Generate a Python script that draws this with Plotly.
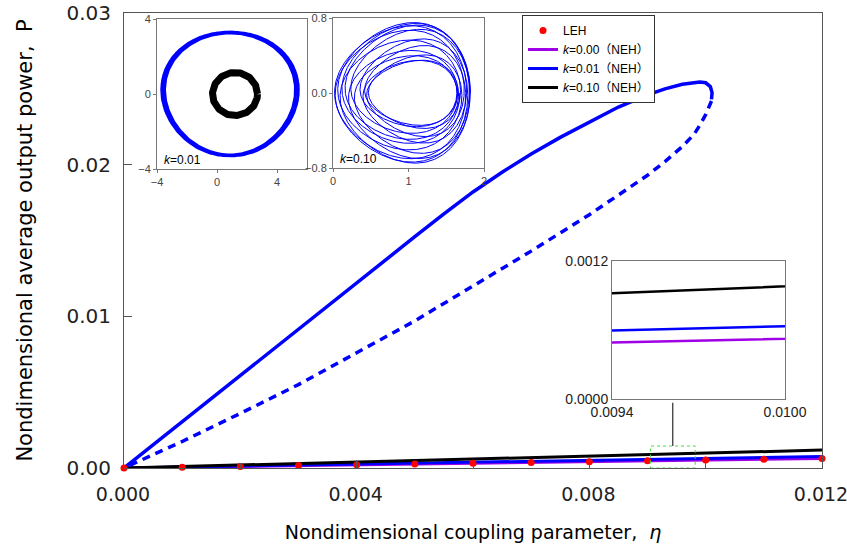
import numpy as np
import plotly.graph_objects as go

# ---------------- data ----------------
eta_leh = [0.000, 0.001, 0.002, 0.003, 0.004, 0.005, 0.006, 0.007, 0.008, 0.009, 0.010, 0.011, 0.012]
P_leh = [0.0, 0.00005, 0.00010, 0.00016, 0.00021, 0.00026, 0.00032, 0.00037, 0.00042, 0.00047, 0.00052, 0.00058, 0.00063]

eta_lin = [0.000, 0.003, 0.006, 0.009, 0.012]
P_k000 = [0.0, 0.00016, 0.00032, 0.00047, 0.00063]
P_k001_low = [0.0, 0.00019, 0.00038, 0.00057, 0.00076]
P_k010 = [0.0, 0.00029, 0.00059, 0.00088, 0.00118]

# k=0.01 high-energy branch (stable: solid, unstable: dashed)
eta_k001_stable = [0.0, 0.001, 0.002, 0.003, 0.004, 0.005, 0.0055, 0.006, 0.0065, 0.007, 0.0075,
                   0.008, 0.0085, 0.009, 0.0093, 0.0096, 0.0099, 0.0100, 0.01008, 0.01011, 0.0101]
P_k001_stable = [0.0, 0.00305, 0.0061, 0.0092, 0.01225, 0.01525, 0.01675, 0.0182, 0.0195, 0.0207,
                 0.0218, 0.0228, 0.0238, 0.0246, 0.0250, 0.0253, 0.02545, 0.0254, 0.02515, 0.02475, 0.0243]
eta_k001_unstable = [0.0101, 0.01005, 0.0100, 0.0099, 0.0098, 0.0096, 0.0093, 0.009, 0.0085, 0.008,
                     0.007, 0.006, 0.005, 0.004, 0.003, 0.002, 0.001, 0.0]
P_k001_unstable = [0.0242, 0.0237, 0.0233, 0.0226, 0.0220, 0.0212, 0.0202, 0.0193, 0.0180, 0.0167,
                   0.0143, 0.0120, 0.0097, 0.0076, 0.0055, 0.0036, 0.00175, 0.0]

x_ticks = [0.000, 0.004, 0.008, 0.012]
x_minor_ticks = [0.002, 0.006, 0.010]
y_ticks = [0.00, 0.01, 0.02, 0.03]

# phase-portrait inset parameters (centre, radii, modulation)
ring_k001 = dict(cx=1.2, rx=1.5, ry=1.15)
band_k001 = dict(cx=0.87, rx=4.45, ry=3.28, mod=0.035, loops=18)
torus_k010 = dict(xr=1.73, dxr=0.09, A=0.7425, dA=0.1575, B=0.54, dB=0.20, loops=14)

BLUE = "#0000ff"
PURPLE = "#a000e6"
FONT_MAIN = "DejaVu Sans"
FONT_SMALL = "Liberation Sans, Arial, Noto Sans CJK SC"

fig = go.Figure()

# ---------------- main traces ----------------
fig.add_trace(go.Scatter(x=eta_lin, y=P_k000, mode="lines", line=dict(color=PURPLE, width=3),
                         name="<i>k</i>=0.00\uff08NEH\uff09", legendrank=2))
fig.add_trace(go.Scatter(x=eta_lin, y=P_k001_low, mode="lines", line=dict(color=BLUE, width=3),
                         name="<i>k</i>=0.01\uff08NEH\uff09", legendrank=3))
fig.add_trace(go.Scatter(x=eta_lin, y=P_k010, mode="lines", line=dict(color="black", width=3),
                         name="<i>k</i>=0.10\uff08NEH\uff09", legendrank=4))
fig.add_trace(go.Scatter(x=eta_k001_stable, y=P_k001_stable, mode="lines",
                         line=dict(color=BLUE, width=3.5), showlegend=False))
fig.add_trace(go.Scatter(x=eta_k001_unstable, y=P_k001_unstable, mode="lines",
                         line=dict(color=BLUE, width=3.5, dash="8px,6px"), showlegend=False))
fig.add_trace(go.Scatter(x=eta_leh, y=P_leh, mode="markers", marker=dict(color="#ff0000", size=7),
                         name="LEH", legendrank=1, cliponaxis=False))
# invisible trace that carries the inside tick marks of the main x axis
fig.add_trace(go.Scatter(x=x_ticks, y=[0] * len(x_ticks), mode="lines", line=dict(width=0),
                         xaxis="x5", yaxis="y", showlegend=False, hoverinfo="skip", opacity=0))

# ---------------- inset 1 (k=0.01) ----------------
t = np.linspace(0, 2 * np.pi * band_k001["loops"], 5000)
mod = 1 + band_k001["mod"] * np.sin(0.37 * t) * (0.6 + 0.4 * np.abs(np.cos(t)))
bx = band_k001["cx"] + band_k001["rx"] * np.cos(t) * mod + 0.15 * np.sin(2 * t)
by = band_k001["ry"] * np.sin(t) * mod
fig.add_trace(go.Scatter(x=bx, y=by, mode="lines", line=dict(color=BLUE, width=1.1),
                         xaxis="x2", yaxis="y2", showlegend=False, hoverinfo="skip"))
tr = np.linspace(0, 2 * np.pi, 200)
fig.add_trace(go.Scatter(x=ring_k001["cx"] + ring_k001["rx"] * np.cos(tr), y=ring_k001["ry"] * np.sin(tr),
                         mode="lines", line=dict(color="black", width=7),
                         xaxis="x2", yaxis="y2", showlegend=False, hoverinfo="skip"))

# ---------------- inset 2 (k=0.10) ----------------
t2 = np.linspace(0, 2 * np.pi * torus_k010["loops"], 6000)
m = np.cos(0.382 * t2)
xr = torus_k010["xr"] + torus_k010["dxr"] * m
A = torus_k010["A"] + torus_k010["dA"] * m
B = torus_k010["B"] + torus_k010["dB"] * m
tx = xr - A * (1 - np.cos(t2))
ty = B * np.sin(t2) * (1 + 0.18 * np.cos(t2))
fig.add_trace(go.Scatter(x=tx, y=ty, mode="lines", line=dict(color=BLUE, width=1),
                         xaxis="x3", yaxis="y3", showlegend=False, hoverinfo="skip"))

# ---------------- inset 3 (zoom) ----------------
for yv, col in [(P_k000, PURPLE), (P_k001_low, BLUE), (P_k010, "black")]:
    fig.add_trace(go.Scatter(x=eta_lin, y=yv, mode="lines", line=dict(color=col, width=2.5),
                             xaxis="x4", yaxis="y4", showlegend=False, hoverinfo="skip"))

# ---------------- layout ----------------
L, R, T, B_ = 124, 822, 13, 468
W, H = 847, 552
pw, ph = R - L, B_ - T


def xd(a, b):
    return [(a - L) / pw, (b - L) / pw]


def yd(top, bot):
    return [(B_ - bot) / ph, (B_ - top) / ph]


inset_axis = dict(showline=True, linecolor="#777", linewidth=1, mirror=True, showgrid=False,
                  zeroline=False, ticks="outside", ticklen=3, tickcolor="#777", automargin=False,
                  ticklabeloverflow="allow",
                  tickfont=dict(family=FONT_SMALL, size=11, color="#444"))

nbsp = "\u00a0"
fig.update_layout(
    width=W, height=H,
    margin=dict(l=L, r=W - R, t=T, b=H - B_, autoexpand=False),
    paper_bgcolor="white", plot_bgcolor="white",
    showlegend=True,
    legend=dict(x=(522 - L) / pw, y=(B_ - 15) / ph, xanchor="left", yanchor="top",
                bgcolor="white", bordercolor="#333", borderwidth=1,
                font=dict(family=FONT_SMALL, size=12, color="black"),
                tracegroupgap=0, itemwidth=30),
    # main x axis: labels pushed down by transparent outside ticks
    xaxis=dict(domain=[0, 1], range=[0, 0.012], tickvals=x_ticks, tickformat=".3f", automargin=False,
               ticks="outside", ticklen=9, tickcolor="rgba(0,0,0,0)", showline=True, linecolor="#555",
               linewidth=1, mirror=True, showgrid=False, zeroline=False, ticklabeloverflow="allow",
               ticklabelshift=-1,
               tickfont=dict(family=FONT_MAIN, size=19, color="#222"),
               title=dict(text="Nondimensional coupling parameter," + nbsp * 2 + "<i>η</i>",
                          font=dict(family=FONT_MAIN, size=19, color="black"), standoff=21)),
    # overlay x axis that draws the inside tick marks
    xaxis5=dict(overlaying="x", anchor="y", side="bottom", range=[0, 0.012], tickvals=x_ticks,
                ticks="inside", ticklen=8, tickcolor="#555", showticklabels=False, showline=False,
                showgrid=False, zeroline=False, automargin=False,
                minor=dict(tickvals=x_minor_ticks, ticks="inside", ticklen=5, tickcolor="#555")),
    yaxis=dict(domain=[0, 1], range=[0, 0.03], tickvals=y_ticks, tickformat=".2f", automargin=False,
               ticks="inside", ticklen=8, tickcolor="#555", showline=True, linecolor="#555",
               linewidth=1, mirror=True, showgrid=False, zeroline=False, ticklabelstandoff=8,
               ticklabeloverflow="allow",
               tickfont=dict(family=FONT_MAIN, size=20, color="#222"),
               title=dict(text="Nondimensional average output power," + nbsp * 2 + "P",
                          font=dict(family=FONT_MAIN, size=21, color="black"), standoff=28)),
    xaxis2=dict(inset_axis, domain=xd(157, 307), range=[-4, 6], tickvals=[-4, 0, 4], anchor="y2"),
    yaxis2=dict(inset_axis, domain=yd(19, 169), range=[-4, 4], tickvals=[-4, 0, 4], anchor="x2"),
    xaxis3=dict(inset_axis, domain=xd(333, 484), range=[0, 2], tickvals=[0, 1, 2], anchor="y3"),
    yaxis3=dict(inset_axis, domain=yd(18, 168), range=[-0.8, 0.8], tickvals=[-0.8, 0.0, 0.8],
                tickformat=".1f", anchor="x3"),
    xaxis4=dict(inset_axis, domain=xd(612, 785), range=[0.0094, 0.0100], tickvals=[0.0094, 0.0100],
                tickformat=".4f", ticks="", anchor="y4",
                tickfont=dict(family=FONT_SMALL, size=14, color="#222")),
    yaxis4=dict(inset_axis, domain=yd(261, 399), range=[0, 0.0012], tickvals=[0, 0.0012],
                tickformat=".4f", ticks="", anchor="x4",
                tickfont=dict(family=FONT_SMALL, size=14, color="#222")),
    annotations=[
        dict(text="<i>k</i>=0.01", xref="x2 domain", yref="y2 domain", x=0.03, y=0.0,
             xanchor="left", yanchor="bottom", showarrow=False,
             font=dict(family=FONT_SMALL, size=12, color="black")),
        dict(text="<i>k</i>=0.10", xref="x3 domain", yref="y3 domain", x=0.03, y=0.0,
             xanchor="left", yanchor="bottom", showarrow=False,
             font=dict(family=FONT_SMALL, size=12, color="black")),
    ],
    shapes=[
        dict(type="rect", xref="x", yref="y", x0=0.00905, x1=0.00982, y0=0, y1=0.00145,
             line=dict(color="#44dd44", width=1, dash="dot")),
        dict(type="line", xref="x", yref="y", x0=0.009435, x1=0.009435, y0=0.00145, y1=0.0043,
             line=dict(color="black", width=1)),
    ],
)

fig.write_html("out.html")
